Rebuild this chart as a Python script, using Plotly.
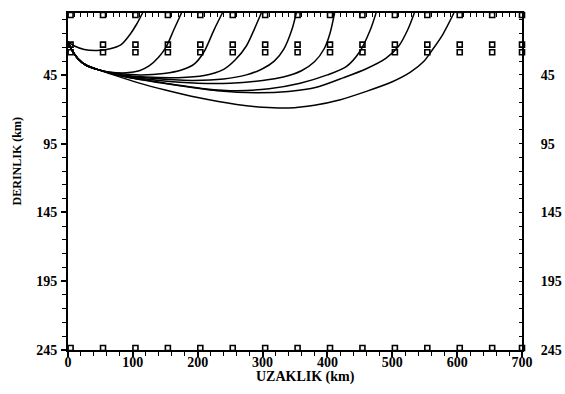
import plotly.graph_objects as go

# ---- data ----
x_tick_labels = [0, 100, 200, 300, 400, 500, 600, 700]
y_tick_labels = [45, 95, 145, 195, 245]

station_km = [4, 54, 104, 154, 204, 254, 304, 354, 404, 454, 504, 554, 604, 654, 700]
surface_depths = [-4, 1.5]
middle_depths = [23, 28.5]
bottom_depth = [243.5]

ray1_x = [0, 10, 25, 45, 65, 82, 95, 106, 115]
ray1_z = [21, 24, 26.5, 27.2, 26, 23, 16, 8, 0]

ray2_x = [0, 6, 15, 28, 45, 65, 90, 110, 125, 140, 152, 163, 175]
ray2_z = [21, 27, 33, 38, 41, 43, 43.5, 42, 38.5, 32, 24, 12.4, 0]

ray3_x = [0, 6, 15, 28, 45, 70, 110, 148, 175, 195, 210, 225, 238]
ray3_z = [21, 27, 33, 38, 41, 43.5, 45, 44, 41.5, 37, 28, 12.4, 0]

ray4_x = [0, 6, 15, 28, 45, 75, 120, 170, 210, 240, 258, 275, 288, 298]
ray4_z = [21, 27, 33, 38, 41, 44.5, 46.5, 47, 45.5, 41, 34, 24, 11, 0]

ray5_x = [0, 6, 15, 28, 45, 80, 130, 190, 240, 275, 300, 318, 333, 345, 352]
ray5_z = [21, 27, 33, 38, 41, 45, 47.5, 49, 48, 45, 40.5, 35, 26, 12.4, 0]

ray6_x = [0, 6, 15, 28, 45, 80, 140, 200, 250, 300, 332, 360, 380, 395, 404, 411]
ray6_z = [21, 27, 33, 38, 41, 45.5, 49, 51, 51, 49, 46.5, 42, 35.5, 26, 14.7, 0]

ray7_x = [0, 6, 15, 28, 45, 85, 150, 210, 260, 310, 358, 400, 429, 450, 466, 475]
ray7_z = [21, 27, 33, 38, 41, 46, 51, 55, 56.5, 55, 51, 45, 39, 28, 12.4, 0]

ray8_x = [0, 6, 15, 28, 45, 90, 160, 230, 290, 340, 383, 425, 460, 490, 510, 524, 534]
ray8_z = [21, 27, 33, 38, 41, 46.5, 52, 56.5, 58, 57, 54, 47, 40.5, 33, 24, 12, 0]

ray9_x = [0, 6, 15, 28, 45, 70, 110, 150, 200, 260, 300, 340, 380, 420, 460, 500, 528, 548, 563, 578, 595]
ray9_z = [21, 27, 33, 38, 41, 45, 51, 56, 61.5, 66.5, 68.5, 69, 67, 63, 57, 50, 43, 35.5, 26, 15.5, 0]

rays = [(ray1_x, ray1_z), (ray2_x, ray2_z), (ray3_x, ray3_z), (ray4_x, ray4_z),
        (ray5_x, ray5_z), (ray6_x, ray6_z), (ray7_x, ray7_z), (ray8_x, ray8_z),
        (ray9_x, ray9_z)]

SERIF = "Liberation Serif"

fig = go.Figure()

for rx, rz in rays:
    fig.add_trace(go.Scatter(x=rx, y=rz, mode="lines",
                             line=dict(color="black", width=1.5, shape="spline", smoothing=0.8),
                             hoverinfo="skip", showlegend=False, cliponaxis=False))

mk = dict(symbol="square-open", size=5, color="black", line=dict(color="black", width=1.6))

for d in surface_depths:
    fig.add_trace(go.Scatter(x=station_km, y=[d] * len(station_km), mode="markers",
                             marker=mk, showlegend=False, cliponaxis=False,
                             xaxis="x2", yaxis="y2"))
for d in middle_depths:
    fig.add_trace(go.Scatter(x=station_km, y=[d] * len(station_km), mode="markers",
                             marker=mk, showlegend=False, cliponaxis=False))
for d in bottom_depth:
    fig.add_trace(go.Scatter(x=station_km, y=[d] * len(station_km), mode="markers",
                             marker=mk, showlegend=False, cliponaxis=False))

tickfont = dict(family=SERIF, size=14, color="black", weight="bold")

fig.update_layout(
    width=565, height=394,
    margin=dict(l=68, r=43, t=13, b=44, autoexpand=False),
    paper_bgcolor="white", plot_bgcolor="white",
    showlegend=False,
    xaxis=dict(range=[0, 700], tickmode="array", tickvals=x_tick_labels,
               ticks="outside", ticklen=5, tickwidth=1.5, tickcolor="black",
               minor=dict(tick0=0, dtick=20, ticks="outside", ticklen=4, tickwidth=1.2, tickcolor="black"),
               showline=True, linecolor="black", linewidth=1.8, showgrid=False, zeroline=False,
               tickfont=tickfont, ticklabelstandoff=-7, automargin=False),
    xaxis2=dict(overlaying="x", side="top", matches="x", range=[0, 700],
                ticks="inside", tick0=0, dtick=10, ticklen=4, tickwidth=1.2, tickcolor="black",
                showticklabels=False, showline=True, linecolor="black", linewidth=1.8,
                showgrid=False, zeroline=False, automargin=False),
    yaxis=dict(range=[245, 0], tickmode="array", tickvals=y_tick_labels,
               ticks="outside", ticklen=5, tickwidth=1.5, tickcolor="black",
               minor=dict(tick0=5, dtick=10, ticks="outside", ticklen=4, tickwidth=1.2, tickcolor="black"),
               showline=True, linecolor="black", linewidth=1.8, showgrid=False, zeroline=False,
               tickfont=tickfont, ticklabelstandoff=1, automargin=False),
    yaxis2=dict(overlaying="y", side="right", matches="y", range=[245, 0],
                tickmode="array", tickvals=y_tick_labels,
                ticks="inside", ticklen=3, tickwidth=1.2, tickcolor="black",
                minor=dict(tick0=5, dtick=10, ticks="inside", ticklen=3, tickwidth=1.2, tickcolor="black"),
                showline=True, linecolor="black", linewidth=1.8, showgrid=False, zeroline=False,
                tickfont=tickfont, ticklabelstandoff=14, automargin=False),
    annotations=[
        dict(text="UZAKLIK (km)", xref="paper", yref="paper", x=0.524, y=-0.079,
             xanchor="center", yanchor="middle", showarrow=False,
             font=dict(family=SERIF, size=14, color="black", weight="bold")),
        dict(text="DERINLIK (km)", xref="paper", yref="paper", x=-0.112, y=0.56,
             xanchor="center", yanchor="middle", showarrow=False, textangle=-90,
             font=dict(family=SERIF, size=12, color="black", weight="bold")),
    ],
)

fig.write_html("out.html", config={"displayModeBar": False},
               post_script="document.body.style.margin='0';document.body.style.padding='0';")
